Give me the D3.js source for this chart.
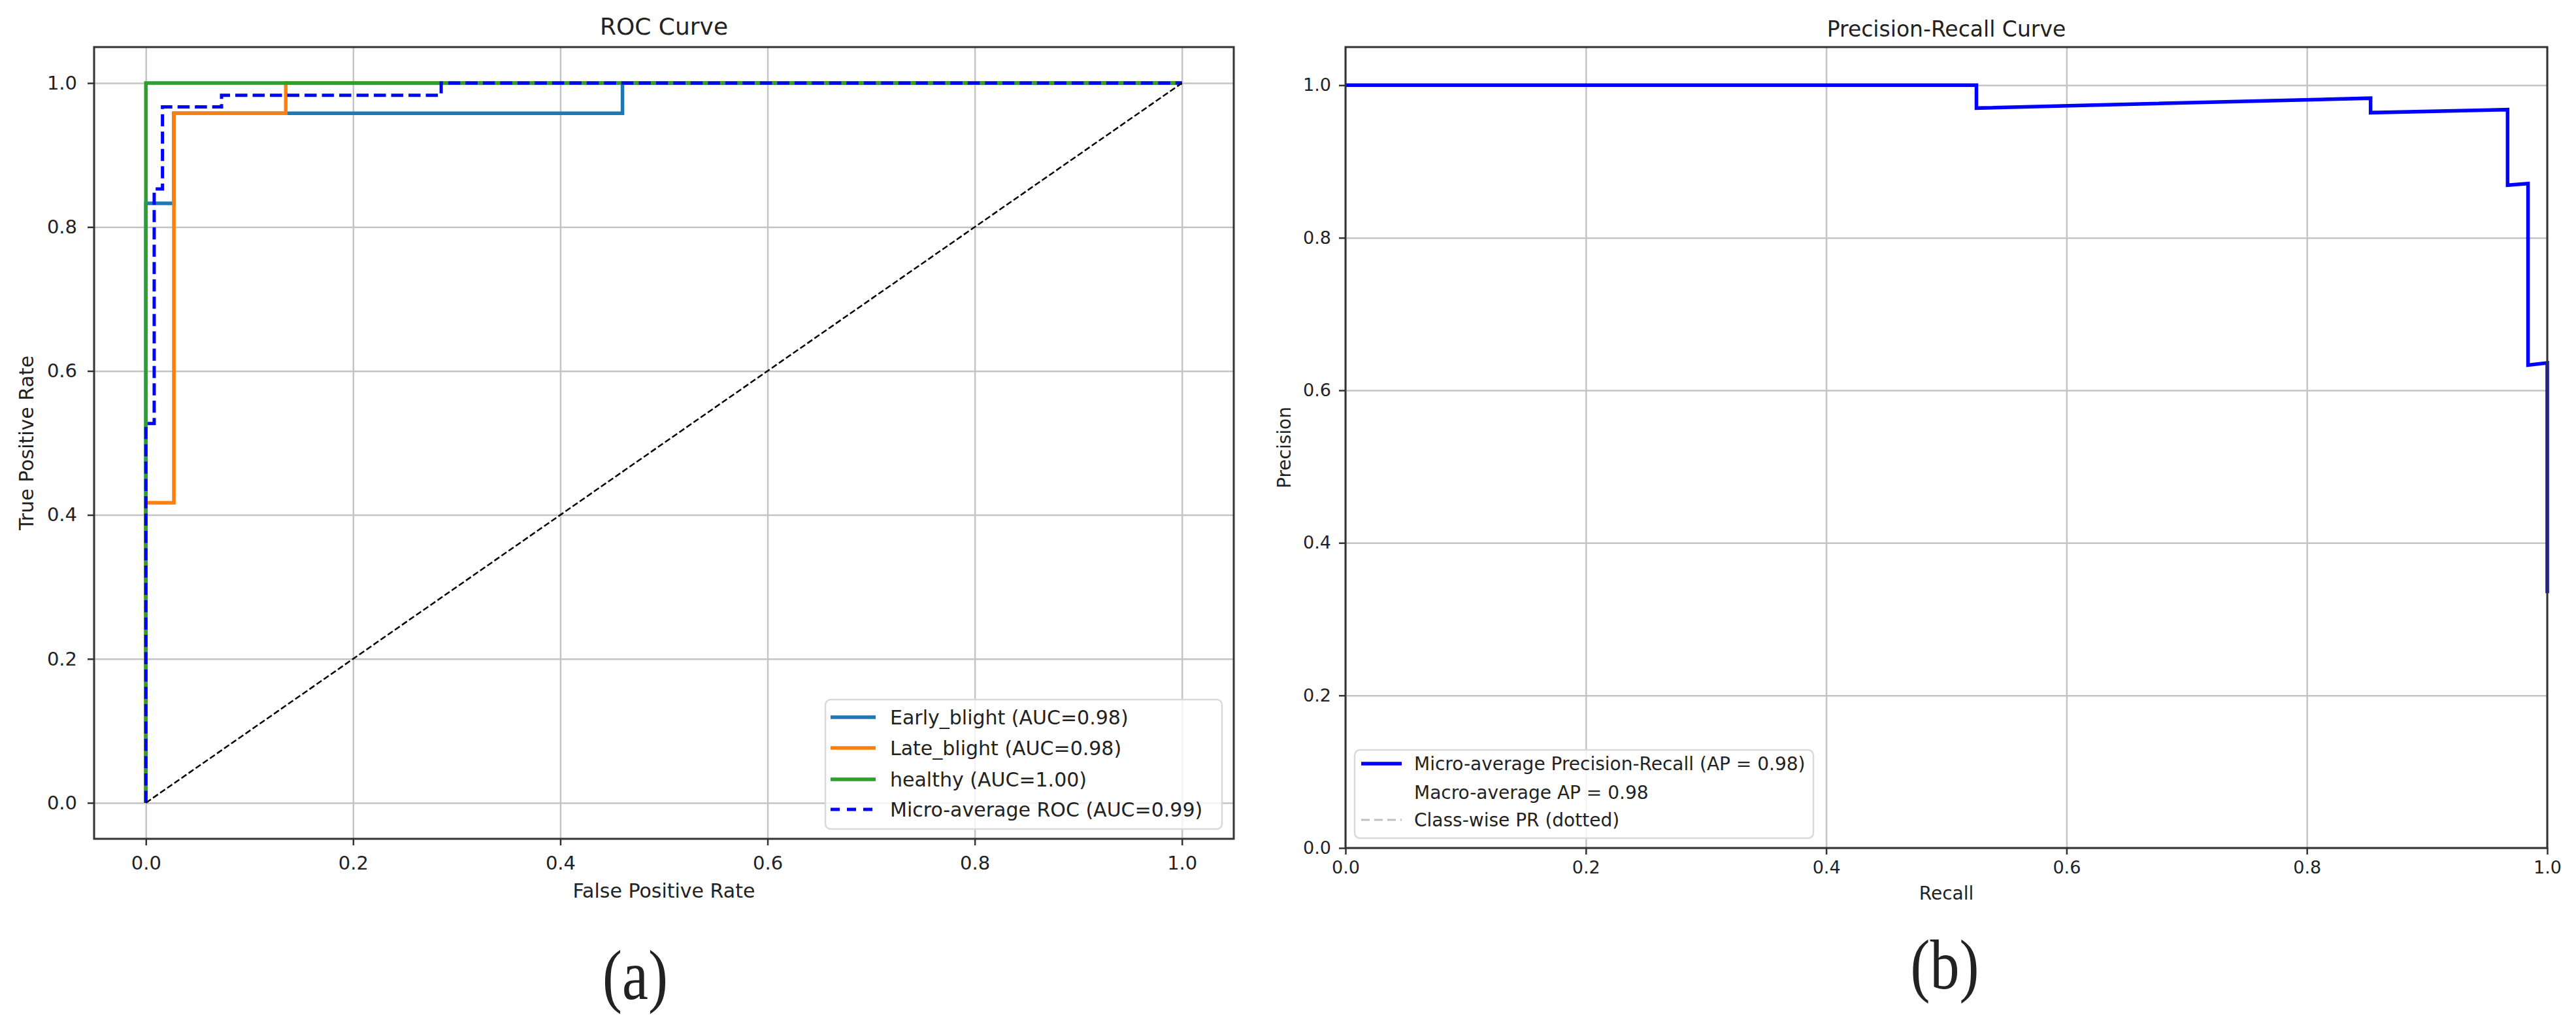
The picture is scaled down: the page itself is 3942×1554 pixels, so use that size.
<!DOCTYPE html>
<html>
<head>
<meta charset="utf-8">
<script src="https://cdn.jsdelivr.net/npm/d3@7"></script>
<style>
  html, body { margin: 0; padding: 0; background: #fff; }
  svg { display: block; }
  text { fill: #222; }
</style>
</head>
<body>
<div id="chart"></div>
<script>
// ---- data ----
const axis_ticks = [0, 0.2, 0.4, 0.6, 0.8, 1.0];

const early_fpr = [0, 0, 0.027, 0.027, 0.46, 0.46, 1.0];
const early_tpr = [0, 0.833, 0.833, 0.958, 0.958, 1.0, 1.0];

const late_fpr = [0, 0, 0.027, 0.027, 0.135, 0.135, 1.0];
const late_tpr = [0, 0.417, 0.417, 0.958, 0.958, 1.0, 1.0];

const healthy_fpr = [0, 0, 1.0];
const healthy_tpr = [0, 1.0, 1.0];

const micro_fpr = [0, 0, 0.008, 0.008, 0.016, 0.016, 0.073, 0.073, 0.285, 0.285, 1.0];
const micro_tpr = [0, 0.527, 0.527, 0.853, 0.853, 0.967, 0.967, 0.983, 0.983, 1.0, 1.0];

const chance_fpr = [0, 1.0];
const chance_tpr = [0, 1.0];

const roc_labels = ['Early_blight (AUC=0.98)', 'Late_blight (AUC=0.98)', 'healthy (AUC=1.00)', 'Micro-average ROC (AUC=0.99)'];

const pr_recall = [0, 0.525, 0.525, 0.853, 0.853, 0.967, 0.967, 0.984, 0.984, 1.0, 1.0];
const pr_precision = [1.0, 1.0, 0.970, 0.983, 0.964, 0.968, 0.869, 0.871, 0.633, 0.636, 0.334];

const pr_labels = ['Micro-average Precision-Recall (AP = 0.98)', 'Macro-average AP = 0.98', 'Class-wise PR (dotted)'];

const W = 3942, H = 1554;
const SANS = '"DejaVu Sans", sans-serif';
const SERIF = '"Liberation Serif", "DejaVu Serif", serif';

const svg = d3.select('#chart').append('svg')
  .attr('width', W)
  .attr('height', H)
  .style('font-family', SANS);

svg.append('rect').attr('width', W).attr('height', H).attr('fill', '#fff');

function make_grid(g, x, y, left, right, top, bottom) {
  g.append('g')
    .attr('transform', `translate(0,${bottom})`)
    .call(d3.axisBottom(x).tickValues(axis_ticks).tickSize(-(bottom - top)).tickFormat(''))
    .call(s => s.select('.domain').remove())
    .selectAll('line').attr('stroke', '#c4c4c4').attr('stroke-width', 2.5);
  g.append('g')
    .attr('transform', `translate(${left},0)`)
    .call(d3.axisLeft(y).tickValues(axis_ticks).tickSize(-(right - left)).tickFormat(''))
    .call(s => s.select('.domain').remove())
    .selectAll('line').attr('stroke', '#c4c4c4').attr('stroke-width', 2.5);
}

function make_axes(g, x, y, left, right, top, bottom, fs, padX, padY) {
  const fmt = d3.format('.1f');
  const xa = g.append('g')
    .attr('transform', `translate(0,${bottom})`)
    .call(d3.axisBottom(x).tickValues(axis_ticks).tickFormat(fmt).tickSize(10).tickPadding(padX));
  const ya = g.append('g')
    .attr('transform', `translate(${left},0)`)
    .call(d3.axisLeft(y).tickValues(axis_ticks).tickFormat(fmt).tickSize(10).tickPadding(padY));
  [xa, ya].forEach(a => {
    a.attr('font-family', SANS).attr('font-size', fs);
    a.select('.domain').remove();
    a.selectAll('line').attr('stroke', '#333').attr('stroke-width', 2.5);
    a.selectAll('text').attr('fill', '#222');
  });
  g.append('rect')
    .attr('x', left).attr('y', top)
    .attr('width', right - left).attr('height', bottom - top)
    .attr('fill', 'none').attr('stroke', '#333').attr('stroke-width', 3);
}

function draw_curve(g, x, y, xs, ys, color, width, dash) {
  const line = d3.line().x(d => x(d[0])).y(d => y(d[1]));
  const p = g.append('path')
    .datum(d3.zip(xs, ys))
    .attr('d', line)
    .attr('fill', 'none')
    .attr('stroke', color)
    .attr('stroke-width', width)
    .attr('stroke-linejoin', 'miter')
    .attr('stroke-linecap', 'butt');
  if (dash) p.attr('stroke-dasharray', dash);
}

function draw_legend(g, box, rows) {
  g.append('rect')
    .attr('x', box.x0).attr('y', box.y0)
    .attr('width', box.x1 - box.x0).attr('height', box.y1 - box.y0)
    .attr('rx', 8).attr('ry', 8)
    .attr('fill', '#fff').attr('fill-opacity', 0.8)
    .attr('stroke', '#d9d9d9').attr('stroke-width', 2.5);
  rows.forEach(r => {
    if (r.color) {
      const l = g.append('line')
        .attr('x1', box.hx0).attr('x2', box.hx1)
        .attr('y1', r.y).attr('y2', r.y)
        .attr('stroke', r.color).attr('stroke-width', r.width);
      if (r.dash) l.attr('stroke-dasharray', r.dash);
    }
    g.append('text')
      .attr('x', box.tx).attr('y', r.y)
      .attr('dy', '0.36em')
      .attr('font-size', box.fs)
      .text(r.label);
  });
}

function panel_tag(x, y, label) {
  svg.append('text')
    .attr('transform', `translate(${x},${y}) scale(1,1.2)`)
    .attr('text-anchor', 'middle')
    .style('font-family', SERIF)
    .attr('font-size', 90)
    .text(label);
}

// ---------- (a) ROC ----------
function draw_roc() {
  const left = 144, right = 1888, top = 72, bottom = 1283;
  const x = d3.scaleLinear().domain([-0.05, 1.05]).range([left, right]);
  const y = d3.scaleLinear().domain([-0.05, 1.05]).range([bottom, top]);
  const g = svg.append('g');

  make_grid(g, x, y, left, right, top, bottom);

  draw_curve(g, x, y, early_fpr, early_tpr, '#1f77b4', 5.5);
  draw_curve(g, x, y, late_fpr, late_tpr, '#ff7f0e', 5.5);
  draw_curve(g, x, y, healthy_fpr, healthy_tpr, '#2ca02c', 5.5);
  draw_curve(g, x, y, micro_fpr, micro_tpr, '#0000ff', 5, '18.5,8');
  draw_curve(g, x, y, chance_fpr, chance_tpr, '#000', 2.5, '9.25,4');

  make_axes(g, x, y, left, right, top, bottom, 29, 16, 16);

  g.append('text')
    .attr('x', (left + right) / 2).attr('y', 53)
    .attr('text-anchor', 'middle').attr('font-size', 36)
    .text('ROC Curve');
  g.append('text')
    .attr('x', (left + right) / 2).attr('y', 1373)
    .attr('text-anchor', 'middle').attr('font-size', 30)
    .text('False Positive Rate');
  g.append('text')
    .attr('transform', `translate(51,${(top + bottom) / 2}) rotate(-90)`)
    .attr('text-anchor', 'middle').attr('font-size', 30)
    .text('True Positive Rate');

  draw_legend(g,
    { x0: 1263, x1: 1870, y0: 1070, y1: 1268, hx0: 1271, hx1: 1340, tx: 1362, fs: 30 },
    [
      { y: 1097, color: '#1f77b4', width: 5.5, label: roc_labels[0] },
      { y: 1144, color: '#ff7f0e', width: 5.5, label: roc_labels[1] },
      { y: 1192, color: '#2ca02c', width: 5.5, label: roc_labels[2] },
      { y: 1238, color: '#0000ff', width: 5, dash: '14,11', label: roc_labels[3] }
    ]);

  panel_tag(972, 1528, '(a)');
}

// ---------- (b) Precision-Recall ----------
function draw_pr() {
  const left = 2059, right = 3898, top = 72, bottom = 1297;
  const x = d3.scaleLinear().domain([0, 1]).range([left, right]);
  const y = d3.scaleLinear().domain([0, 1.05]).range([bottom, top]);
  const g = svg.append('g');

  make_grid(g, x, y, left, right, top, bottom);

  draw_curve(g, x, y, pr_recall, pr_precision, '#0000ff', 5.5);

  make_axes(g, x, y, left, right, top, bottom, 27, 10, 12);

  g.append('text')
    .attr('x', (left + right) / 2).attr('y', 56)
    .attr('text-anchor', 'middle').attr('font-size', 33)
    .text('Precision-Recall Curve');
  g.append('text')
    .attr('x', (left + right) / 2).attr('y', 1376)
    .attr('text-anchor', 'middle').attr('font-size', 28)
    .text('Recall');
  g.append('text')
    .attr('transform', `translate(1975,${(top + bottom) / 2}) rotate(-90)`)
    .attr('text-anchor', 'middle').attr('font-size', 28)
    .text('Precision');

  draw_legend(g,
    { x0: 2073, x1: 2775, y0: 1147, y1: 1282, hx0: 2083, hx1: 2145, tx: 2164, fs: 28 },
    [
      { y: 1168, color: '#0000ff', width: 5.5, label: pr_labels[0] },
      { y: 1212, color: null, label: pr_labels[1] },
      { y: 1254, color: '#c0c0c0', width: 3, dash: '13,7', label: pr_labels[2] }
    ]);

  panel_tag(2976, 1512, '(b)');
}

draw_roc();
draw_pr();
</script>
</body>
</html>
